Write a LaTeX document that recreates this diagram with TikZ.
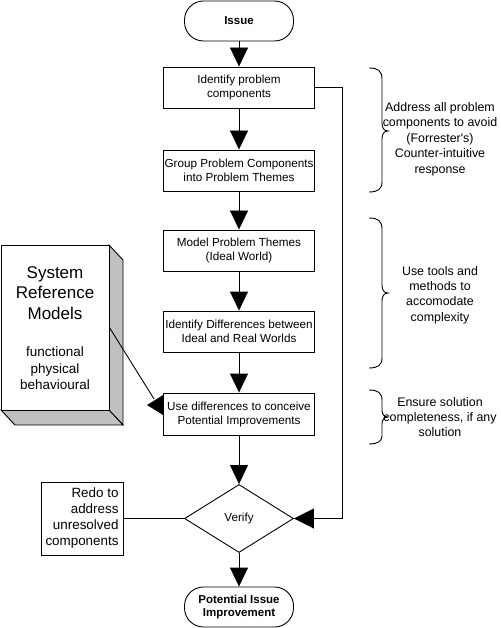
\documentclass[tikz,border=0pt]{standalone}
\usepackage{fontspec}
\setmainfont{Liberation Sans}
\newfontfamily\plainsans{Liberation Sans}
\usetikzlibrary{arrows.meta,shapes.geometric,calc}
\definecolor{sidegray}{RGB}{192,192,192}
\begin{document}
\begin{tikzpicture}[x=1pt,y=-1pt,line width=0.9pt,
  box/.style={draw, fill=white, minimum width=151pt, minimum height=41pt, align=center, inner sep=0.5pt, font=\fontsize{11.7}{14}\selectfont},
  term/.style={draw, fill=white, rounded corners=19pt, minimum width=109pt, minimum height=40pt, align=center, inner sep=1pt, font=\bfseries\fontsize{11.5}{13.8}\selectfont},
  arr/.style={-{Triangle[width=18pt,length=19pt]}},
  side/.style={draw, fill=sidegray},
  note/.style={align=center, font=\plainsans\fontsize{12.4}{15.4}\selectfont},
  ]
\useasboundingbox (0,0) rectangle (500,628);
% flow nodes
\node[term] (issue) at (239,21) {Issue};
\node[box] (b1) at (239,87.5) {Identify problem\\components};
\node[box] (b2) at (239,170.5) {Group Problem Components\\into Problem Themes};
\node[box] (b3) at (239,250.5) {Model Problem Themes\\(Ideal World)};
\node[box] (b4) at (239,331.5) {Identify Differences between\\Ideal and Real Worlds};
\node[box, minimum height=42pt] (b5) at (239,414) {Use differences to conceive\\Potential Improvements};
\node[draw, diamond, minimum width=109pt, minimum height=68pt, inner sep=0pt, font=\fontsize{11.7}{14}\selectfont] (verify) at (239,518.5) {Verify};
\node[draw, minimum width=82pt, minimum height=73pt, align=right, inner sep=2pt, font=\fontsize{13.4}{16}\selectfont] (redo) at (82,518.5) {Redo to\\address\\unresolved\\components};
\node[term] (pot) at (239,607) {Potential Issue\\Improvement};
% flow arrows
\draw[arr] (issue) -- (b1);
\draw[arr] (b1) -- (b2);
\draw[arr] (b2) -- (b3);
\draw[arr] (b3) -- (b4);
\draw[arr] (b4) -- (b5);
\draw[arr] (b5) -- (verify);
\draw[arr] (verify) -- (pot);
% feedback loop
\coordinate (fbA) at (342,87.5);
\coordinate (fbB) at (342,518.5);
\draw[-{Triangle[width=20pt,length=20pt]}] (b1.east) -- (fbA) -- (fbB) -- (verify.east);
\draw (redo.east) -- (verify.west);
% system reference models block
\draw[side] (109,245) -- (123,260) -- (123,425) -- (109,410) -- cycle;
\draw[side] (1,410) -- (109,410) -- (123,425) -- (15,425) -- cycle;
\node[draw, fill=white, minimum width=108pt, minimum height=165pt, inner sep=0pt] (srm) at (55,327.5) {};
\node[font=\fontsize{17}{20.5}\selectfont, align=center] (srmt) at (55,293) {System\\Reference\\Models};
\node[font=\fontsize{13.5}{16.5}\selectfont, align=center] (srms) at (55,368.5) {functional\\physical\\behavioural};
\coordinate (tipA) at ($(b5.west)+(-9,-15)$);
\draw (srm.east) -- (tipA);
\fill ($(b5.west)+(0,-19)$) -- ($(b5.west)+(0,1)$) -- ($(b5.west)+(-16,-9)$) -- cycle;
% braces
\draw (369,68) .. controls (378,68) and (382,71) .. (382,79) -- (382,123) .. controls (382,128) and (384,131) .. (388,131) .. controls (384,131) and (382,134) .. (382,139) -- (382,182) .. controls (382,189) and (378,192) .. (369,192);
\draw (369,218) .. controls (378,218) and (382,221) .. (382,229) -- (382,285) .. controls (382,290) and (384,293) .. (388,293) .. controls (384,293) and (382,296) .. (382,301) -- (382,358) .. controls (382,365) and (378,368) .. (369,368);
\draw (369,390) .. controls (378,390) and (382,393) .. (382,400) -- (382,410) .. controls (382,414) and (384,417) .. (388,417) .. controls (384,417) and (382,420) .. (382,424) -- (382,436) .. controls (382,441) and (378,444) .. (369,444);
% notes
\node[note] (n1) at (440,139) {Address all problem\\components to avoid\\(Forrester's)\\Counter-intuitive\\response};
\node[note] (n2) at (440,295) {Use tools and\\methods to\\accomodate\\complexity};
\node[note] (n3) at (440,417) {Ensure solution\\completeness, if any\\solution};
\end{tikzpicture}
\end{document}
